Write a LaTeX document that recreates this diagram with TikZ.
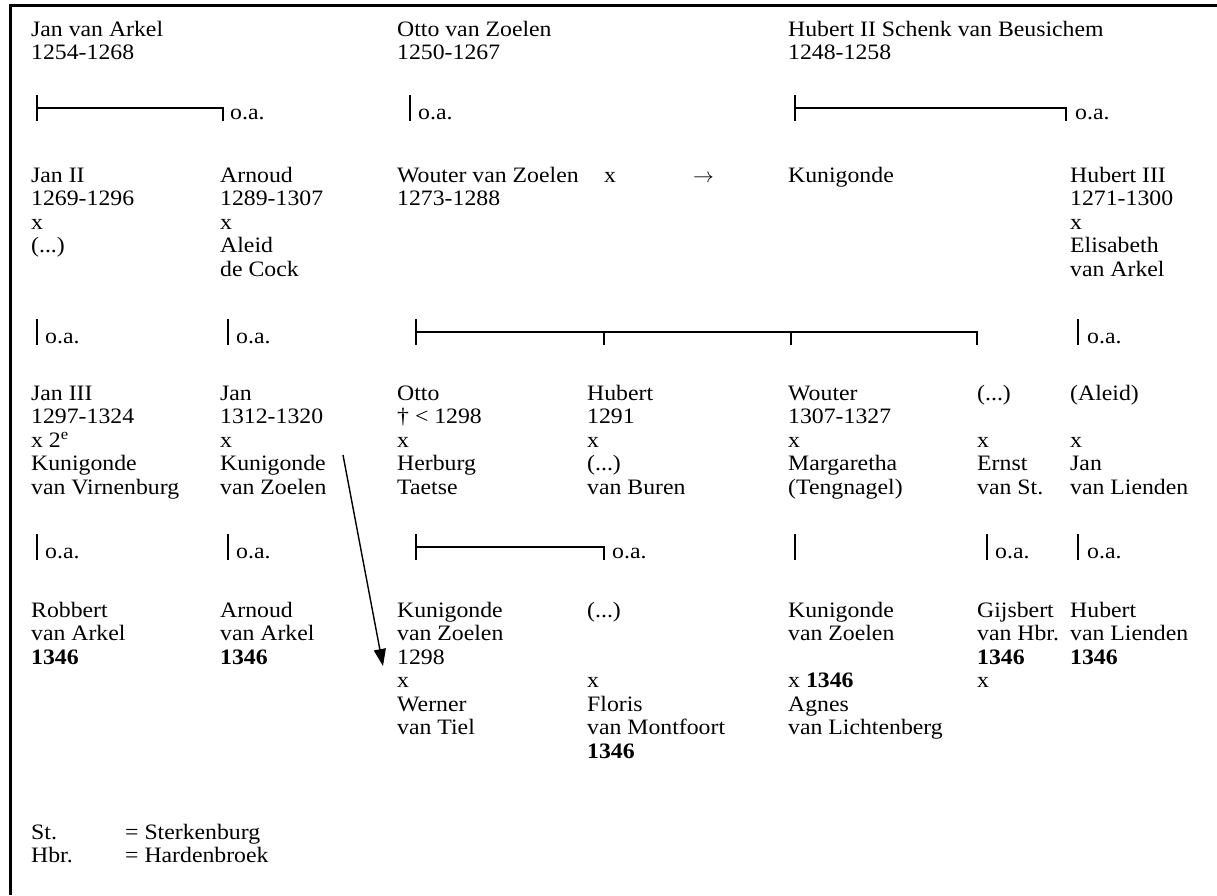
\documentclass[tikz,border=0pt]{standalone}
\usepackage{fontspec}
\setmainfont{Liberation Serif}[FakeStretch=1.08]
\usetikzlibrary{arrows.meta}
\begin{document}
\begin{tikzpicture}[x=1pt,y=-1pt,
  every node/.style={font=\fontsize{22}{23.5}\selectfont, inner sep=0pt},
  pers/.style={anchor=north west, align=left, yshift=16.45pt},
  oa/.style={anchor=base west},
  br/.style={line width=1.6pt},
  frame/.style={line width=3pt},
  link/.style={line width=1.4pt, -{Triangle[length=17pt,width=12pt]}}]
\useasboundingbox (0,0) rectangle (1217,895);
\draw[frame] (10,895) -- (10,5) -- (1217,5);

% Row A
\node[pers] (jva) at (31,36) {\strut Jan van Arkel\\1254-1268};
\node[pers] (ovz) at (397,36) {\strut Otto van Zoelen\\1250-1267};
\node[pers] (hub2) at (788,36) {\strut Hubert II Schenk van Beusichem\\1248-1258};

% Bracket row 1
\draw[br] (37,95) -- (37,121);
\draw[br] (37,108) -| (223,121);
\node[oa] (oa11) at (230,119) {o.a.};
\draw[br] (410,95) -- (410,121);
\node[oa] (oa12) at (418,119) {o.a.};
\draw[br] (795,95) -- (795,121);
\draw[br] (795,108) -| (1066,121);
\node[oa] (oa13) at (1075,119) {o.a.};

% Row B
\node[pers] (jan2) at (31,182) {\strut Jan II\\1269-1296\\x\\(...)};
\node[pers] (arn) at (220,182) {\strut Arnoud\\1289-1307\\x\\Aleid\\de Cock};
\node[pers] (wvz) at (397,182) {\strut Wouter van Zoelen\\1273-1288};
\node[oa] (wx) at (604,182) {x};
\node[oa] (arr) at (693,182) {$\rightarrow$};
\node[pers] (kunB) at (788,182) {\strut Kunigonde};
\node[pers] (hub3) at (1070,182) {\strut Hubert III\\1271-1300\\x\\Elisabeth\\van Arkel};

% Bracket row 2
\draw[br] (37,319) -- (37,345);
\node[oa] (oa21) at (45,343) {o.a.};
\draw[br] (228,319) -- (228,345);
\node[oa] (oa22) at (236,343) {o.a.};
\draw[br] (416,319) -- (416,345);
\draw[br] (416,332) -| (977,345);
\draw[br] (604,332) -- (604,345);
\draw[br] (791,332) -- (791,345);
\draw[br] (1078,319) -- (1078,345);
\node[oa] (oa23) at (1087,343) {o.a.};

% Row C
\node[pers] (jan3) at (31,400) {\strut Jan III\\1297-1324\\x 2\textsuperscript{e}\\Kunigonde\\van Virnenburg};
\node[pers] (janC) at (220,400) {\strut Jan\\1312-1320\\x\\Kunigonde\\van Zoelen};
\node[pers] (ottoC) at (397,400) {\strut Otto\\† < 1298\\x\\Herburg\\Taetse};
\node[pers] (hubC) at (587,400) {\strut Hubert\\1291\\x\\(...)\\van Buren};
\node[pers] (woutC) at (788,400) {\strut Wouter\\1307-1327\\x\\Margaretha\\(Tengnagel)};
\node[pers] (unkC) at (977,400) {\strut (...)\\~\\x\\Ernst\\van St.};
\node[pers] (aleidC) at (1070,400) {\strut (Aleid)\\~\\x\\Jan\\van Lienden};

% Bracket row 3
\draw[br] (37,534) -- (37,560);
\node[oa] (oa31) at (45,558) {o.a.};
\draw[br] (228,534) -- (228,560);
\node[oa] (oa32) at (236,558) {o.a.};
\draw[br] (416,534) -- (416,560);
\draw[br] (416,547) -| (604,560);
\node[oa] (oa33) at (612,558) {o.a.};
\draw[br] (795,534) -- (795,560);
\draw[br] (987,534) -- (987,560);
\node[oa] (oa34) at (995,558) {o.a.};
\draw[br] (1078,534) -- (1078,560);
\node[oa] (oa35) at (1087,558) {o.a.};

% Row D
\node[pers] (robD) at (31,617) {\strut Robbert\\van Arkel\\\textbf{1346}};
\node[pers] (arnD) at (220,617) {\strut Arnoud\\van Arkel\\\textbf{1346}};
\node[pers] (kunD) at (397,617) {\strut Kunigonde\\van Zoelen\\1298\\x\\Werner\\van Tiel};
\node[pers] (unkD) at (587,617) {\strut (...)\\~\\~\\x\\Floris\\van Montfoort\\\textbf{1346}};
\node[pers] (kun2D) at (788,617) {\strut Kunigonde\\van Zoelen\\~\\x \textbf{1346}\\Agnes\\van Lichtenberg};
\node[pers] (gijD) at (977,617) {\strut Gijsbert\\van Hbr.\\\textbf{1346}\\x};
\node[pers] (hubD) at (1070,617) {\strut Hubert\\van Lienden\\\textbf{1346}};

% Arrow
\coordinate (as) at (343,455);
\coordinate (ae) at (383,666);
\draw[link] (as) -- (ae);

% Legend
\node[oa] (lst) at (31,839) {St.};
\node[oa] (lstv) at (125,839) {= Sterkenburg};
\node[oa] (lhb) at (31,862) {Hbr.};
\node[oa] (lhbv) at (125,862) {= Hardenbroek};
\end{tikzpicture}
\end{document}
